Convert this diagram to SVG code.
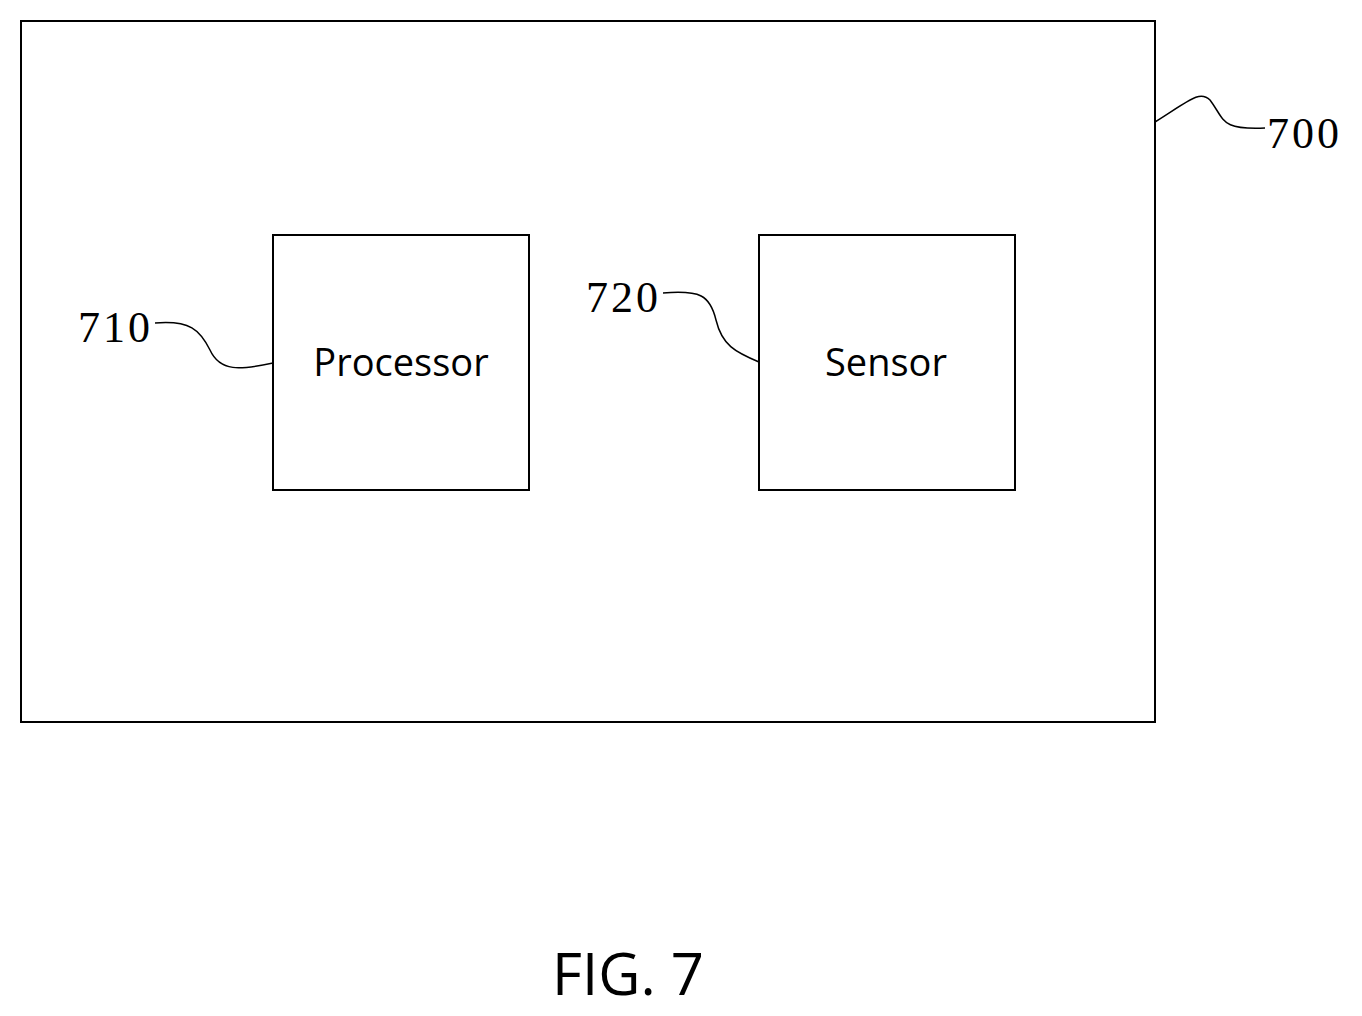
<svg xmlns="http://www.w3.org/2000/svg" width="1362" height="1016" viewBox="0 0 1362 1016">
<style>
.b{fill:none;stroke:#000;stroke-width:2}
.l{fill:none;stroke:#000;stroke-width:1.5}
.t{font-family:"Open Sans","Noto Sans",sans-serif;font-size:38px;fill:#000}
.n{font-family:"Liberation Serif",serif;font-size:44px;letter-spacing:3px;fill:#000}
</style>
<rect width="1362" height="1016" fill="#fff"/>
<g id="device700"><rect class="b" x="21" y="21" width="1134" height="701"/></g>
<g id="processor710"><rect class="b" x="273" y="235" width="256" height="255"/><text class="t" x="401" y="376" text-anchor="middle">Processor</text></g>
<g id="sensor720"><rect class="b" x="759" y="235" width="256" height="255"/><text class="t" x="886" y="376" text-anchor="middle">Sensor</text></g>
<g id="connectors">
<path class="l" d="M1155 122 C1190 100,1200 90,1210 100 C1225 120,1220 130,1265 128"/>
<path class="l" d="M155 323 C190 320,200 330,210 350 C220 372,240 370,273 363"/>
<path class="l" d="M663 293 C700 290,710 295,716 320 C722 345,735 352,759 362"/>
</g>
<g id="labels">
<text class="n" x="1267" y="148">700</text>
<text class="n" x="78" y="342">710</text>
<text class="n" x="586" y="312">720</text>
<text class="t" x="628" y="995" text-anchor="middle" style="font-size:58px">FIG. 7</text>
</g>
</svg>
